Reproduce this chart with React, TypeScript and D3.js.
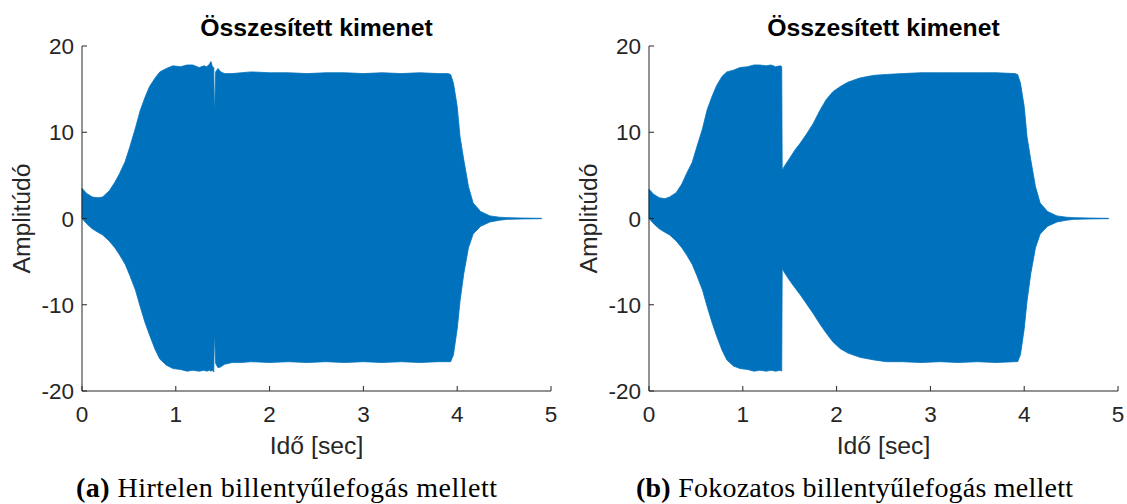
import React from 'react';
import * as d3 from 'd3';

// ---- data (envelope of the summed output signal) ----
const timeA = [0, 0.05, 0.11, 0.17, 0.22, 0.29, 0.35, 0.40, 0.46, 0.51, 0.57, 0.62, 0.67, 0.72, 0.78, 0.83, 0.90, 0.97, 1.05, 1.12, 1.18, 1.25, 1.30, 1.33, 1.36, 1.375, 1.39, 1.405, 1.41, 1.415, 1.425, 1.45, 1.48, 1.52, 1.60, 1.70, 1.80, 2.00, 2.20, 2.40, 2.60, 2.80, 3.00, 3.20, 3.40, 3.60, 3.80, 3.90, 3.93, 3.96, 4.00, 4.03, 4.07, 4.12, 4.17, 4.25, 4.35, 4.45, 4.53, 4.70, 4.90];
const upperA = [3.5, 2.9, 2.5, 2.4, 2.5, 3.2, 4.2, 5.2, 6.6, 8.3, 10.5, 12.5, 14.0, 15.3, 16.3, 17.0, 17.4, 17.7, 17.6, 17.8, 17.8, 17.5, 17.7, 17.6, 17.9, 18.2, 17.6, 17.5, 13.0, 13.0, 17.0, 17.4, 17.0, 16.8, 16.8, 16.9, 17.0, 16.9, 16.9, 16.8, 16.9, 16.9, 16.8, 16.9, 16.8, 16.9, 16.8, 16.8, 16.7, 15.7, 13.0, 9.5, 6.8, 3.7, 1.8, 0.8, 0.3, 0.15, 0.1, 0.05, 0.02];
const lowerA = [0.0, -0.6, -1.2, -1.6, -1.9, -2.6, -3.4, -4.2, -5.3, -6.6, -8.3, -10.2, -12.0, -13.5, -15.2, -16.3, -17.0, -17.4, -17.5, -17.7, -17.6, -17.7, -17.6, -17.7, -17.6, -17.7, -17.6, -17.8, -13.9, -13.9, -16.8, -17.3, -17.2, -16.9, -16.7, -16.7, -16.6, -16.7, -16.6, -16.7, -16.6, -16.7, -16.6, -16.7, -16.6, -16.7, -16.6, -16.6, -16.6, -15.8, -12.8, -9.6, -6.4, -3.4, -1.8, -0.9, -0.4, -0.2, -0.1, -0.05, -0.02];

const timeB = [0, 0.05, 0.11, 0.17, 0.22, 0.29, 0.35, 0.40, 0.46, 0.51, 0.57, 0.62, 0.67, 0.72, 0.78, 0.83, 0.90, 0.97, 1.05, 1.12, 1.18, 1.25, 1.30, 1.35, 1.40, 1.415, 1.42, 1.44, 1.50, 1.56, 1.61, 1.68, 1.75, 1.82, 1.89, 1.96, 2.04, 2.12, 2.25, 2.40, 2.53, 2.70, 2.90, 3.10, 3.30, 3.50, 3.70, 3.90, 3.93, 3.96, 4.00, 4.03, 4.07, 4.12, 4.17, 4.25, 4.35, 4.45, 4.53, 4.70, 4.90];
const upperB = [3.4, 2.8, 2.4, 2.3, 2.5, 3.0, 4.0, 5.2, 6.5, 8.3, 10.4, 12.6, 14.1, 15.4, 16.5, 17.0, 17.2, 17.5, 17.6, 17.8, 17.8, 17.7, 17.8, 17.6, 17.7, 17.6, 5.6, 6.0, 7.0, 8.0, 8.7, 9.8, 11.0, 12.5, 13.8, 14.7, 15.3, 15.8, 16.3, 16.6, 16.7, 16.8, 16.9, 16.9, 16.9, 16.9, 16.9, 16.8, 16.7, 15.7, 13.0, 9.5, 6.8, 3.7, 1.8, 0.8, 0.3, 0.15, 0.1, 0.05, 0.02];
const lowerB = [0.0, -0.6, -1.2, -1.6, -1.9, -2.6, -3.4, -4.2, -5.3, -6.6, -8.3, -10.2, -12.0, -13.6, -15.3, -16.4, -17.1, -17.4, -17.5, -17.7, -17.6, -17.7, -17.6, -17.7, -17.6, -17.7, -5.8, -6.2, -7.2, -8.1, -8.8, -9.9, -11.0, -12.2, -13.3, -14.3, -15.1, -15.6, -16.1, -16.4, -16.6, -16.6, -16.7, -16.6, -16.7, -16.6, -16.7, -16.6, -16.6, -15.8, -12.8, -9.6, -6.4, -3.4, -1.8, -0.9, -0.4, -0.2, -0.1, -0.05, -0.02];

const xTicks = [0, 1, 2, 3, 4, 5];
const yTicks = [20, 10, 0, -10, -20];
const titleText = 'Összesített kimenet';
const xLabelText = 'Idő [sec]';
const yLabelText = 'Amplitúdó';
const captionTags = ['(a)', '(b)'];
const captionTexts = ['Hirtelen billentyűlefogás mellett', 'Fokozatos billentyűlefogás mellett'];

const W = 1127;
const H = 504;
const AX = '#262626';
const BLUE = '#0072BD';
const SANS = '"Liberation Sans", Arial, Helvetica, sans-serif';
const SERIF = '"Liberation Serif", "Times New Roman", serif';

type PanelProps = {
  left: number;
  right: number;
  times: number[];
  upper: number[];
  lower: number[];
  capCenter: number;
  capWidth: number;
  tag: string;
  caption: string;
};

function Panel({ left, right, times, upper, lower, capCenter, capWidth, tag, caption }: PanelProps) {
  const top = 46;
  const bottom = 391;
  const x = d3.scaleLinear().domain([0, 5]).range([left, right]);
  const y = d3.scaleLinear().domain([-20, 20]).range([bottom, top]);
  const idx = d3.range(times.length);
  const area = d3
    .area<number>()
    .x((i) => x(times[i]))
    .y0((i) => y(lower[i]))
    .y1((i) => y(upper[i]))
    .curve(d3.curveLinear);
  const d = area(idx) || '';
  const cx = (left + right) / 2;
  return (
    <g>
      <path d={d} fill={BLUE} stroke={BLUE} strokeWidth={0.8} />
      {/* axes */}
      <line x1={left} x2={left} y1={top} y2={bottom} stroke={AX} strokeWidth={1} />
      <line x1={left} x2={right} y1={bottom} y2={bottom} stroke={AX} strokeWidth={1} />
      {yTicks.map((t) => (
        <g key={'y' + t}>
          <line x1={left} x2={left + 5} y1={y(t)} y2={y(t)} stroke={AX} strokeWidth={1} />
          <text
            x={left - 8}
            y={y(t)}
            dy="0.36em"
            textAnchor="end"
            fontFamily={SANS}
            fontSize={22.5}
            fill={AX}
          >
            {t}
          </text>
        </g>
      ))}
      {xTicks.map((t) => (
        <g key={'x' + t}>
          <line x1={x(t)} x2={x(t)} y1={bottom} y2={bottom - 5} stroke={AX} strokeWidth={1} />
          <text x={x(t)} y={422} textAnchor="middle" fontFamily={SANS} fontSize={22.5} fill={AX}>
            {t}
          </text>
        </g>
      ))}
      <text x={cx} y={36} textAnchor="middle" fontFamily={SANS} fontWeight="bold" fontSize={24.75} fill="#000">
        {titleText}
      </text>
      <text x={cx} y={454} textAnchor="middle" fontFamily={SANS} fontSize={24.75} fill={AX}>
        {xLabelText}
      </text>
      <text
        transform={`translate(${left - 52},${(top + bottom) / 2}) rotate(-90)`}
        textAnchor="middle"
        fontFamily={SANS}
        fontSize={24.75}
        fill={AX}
      >
        {yLabelText}
      </text>
      <text
        x={capCenter}
        y={497}
        textAnchor="middle"
        fontFamily={SERIF}
        fontSize={28}
        fill="#000"
        textLength={capWidth}
        lengthAdjust="spacing"
      >
        <tspan fontWeight="bold">{tag}</tspan>
        <tspan> {caption}</tspan>
      </text>
    </g>
  );
}

export default function App() {
  return (
    <svg
      width={W}
      height={H}
      viewBox={`0 0 ${W} ${H}`}
      style={{ position: 'absolute', left: 0, top: 0, background: '#fff' }}
    >
      <rect x={0} y={0} width={W} height={H} fill="#fff" />
      <Panel
        left={82}
        right={551}
        times={timeA}
        upper={upperA}
        lower={lowerA}
        capCenter={286.5}
        capWidth={421}
        tag={captionTags[0]}
        caption={captionTexts[0]}
      />
      <Panel
        left={649}
        right={1118}
        times={timeB}
        upper={upperB}
        lower={lowerB}
        capCenter={854.5}
        capWidth={437}
        tag={captionTags[1]}
        caption={captionTexts[1]}
      />
    </svg>
  );
}
